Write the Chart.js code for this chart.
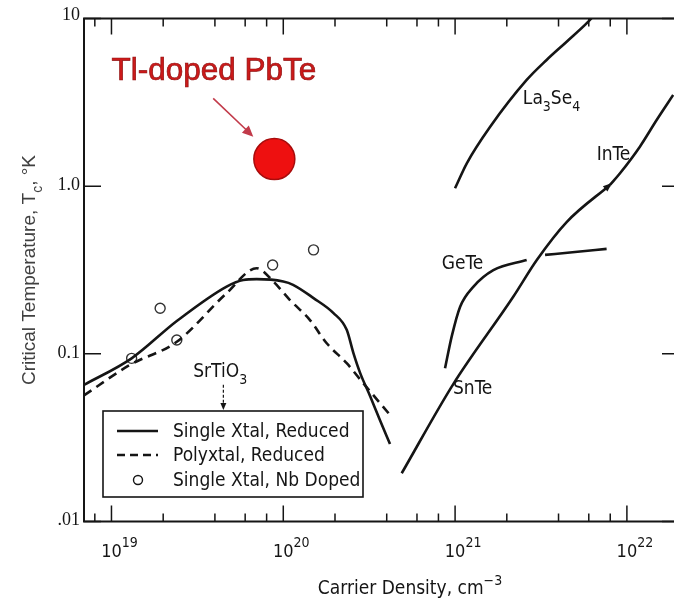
<!DOCTYPE html>
<html>
<head>
<meta charset="utf-8">
<script src="https://cdn.jsdelivr.net/npm/chart.js@4/dist/chart.umd.min.js"></script>
<style>
  html, body { margin: 0; padding: 0; background: #fff; }
  #wrap { width: 674px; height: 604px; }
</style>
</head>
<body>
<div id="wrap"><canvas id="chart" width="674" height="604"></canvas></div>
<script>
// carrier density (cm^-3) vs critical temperature (K)
const singleXtalN = [6.92e18, 1.31e19, 2.40e19, 4.68e19, 5.85e19, 7.0e19, 1.0e20, 1.14e20, 1.50e20, 1.96e20, 2.34e20, 2.56e20, 2.80e20, 3.20e20, 3.66e20, 4.18e20];
const singleXtalTc = [0.0653, 0.094, 0.157, 0.252, 0.276, 0.279, 0.27, 0.258, 0.215, 0.175, 0.139, 0.101, 0.077, 0.056, 0.040, 0.029];

const polyXtalN = [6.92e18, 1.28e19, 2.40e19, 4.68e19, 7.0e19, 8.75e19, 1.09e20, 1.43e20, 1.79e20, 2.34e20, 2.92e20, 4.18e20];
const polyXtalTc = [0.0565, 0.0859, 0.118, 0.23, 0.324, 0.27, 0.21, 0.159, 0.1156, 0.0879, 0.0668, 0.0432];

const nbDopedN = [1.31e19, 1.92e19, 2.40e19, 8.67e19, 1.50e20];
const nbDopedTc = [0.094, 0.187, 0.121, 0.339, 0.417];

const tlPbTeN = [8.87e19];
const tlPbTeTc = [1.45];

const snTeN = [4.89e20, 9.76e20, 2.18e21, 2.99e21, 4.46e21, 7.97e21];
const snTeTc = [0.0194, 0.066, 0.219, 0.363, 0.611, 1.017];

const inTeN = [7.97e21, 9.12e21, 1.19e22, 1.49e22, 1.86e22];
const inTeTc = [1.017, 1.194, 1.72, 2.48, 3.5];

// null marks the break where GeTe passes under SnTe
const geTeN = [8.74e20, 9.56e20, 1.07e21, 1.28e21, 1.67e21, 2.61e21, 3.0e21, 3.34e21, 4.99e21, 7.62e21];
const geTeTc = [0.082, 0.127, 0.191, 0.252, 0.316, 0.363, null, 0.389, 0.405, 0.4225];

const la3Se4N = [9.99e20, 1.17e21, 1.60e21, 2.61e21, 3.41e21, 4.46e21, 5.96e21, 6.3e21];
const la3Se4Tc = [0.971, 1.369, 2.26, 4.30, 5.66, 7.27, 9.57, 10.2];

// axis ticks
const xMajorTicks = [1e19, 1e20, 1e21, 1e22];
const xMajorExp = ['19', '20', '21', '22'];
const xMinorTicks = [8e18, 2e19, 4e19, 6e19, 8e19, 2e20, 4e20, 6e20, 8e20, 2e21, 4e21, 6e21, 8e21];
const yTicks = [0.01, 0.1, 1, 10];
const yTickLabels = ['.01', '0.1', '1.0', '10'];

const SANS = '"DejaVu Sans Condensed", "DejaVu Sans", sans-serif';
const SERIF = '"Liberation Serif", "DejaVu Serif", serif';
const INK = '#151515';

const pts = (xs, ys) => xs.map((v, i) => ({ x: v, y: ys[i] }));

// curve labels, anchored in data units
const curveLabels = [
    { at: [2.48e21, 3.40], parts: [['La'], ['3', 'sub'], ['Se'], ['4', 'sub']] },
    { at: [6.67e21, 1.58], parts: [['InTe']] },
    { at: [8.36e20, 0.351], parts: [['GeTe']] },
    { at: [9.72e20, 0.063], parts: [['SnTe']] },
    { at: [2.99e19, 0.0802], parts: [['SrTiO'], ['3', 'sub']] },
];

function drawRich(ctx, parts, x, y, size, family, align) {
    const big = size + 'px ' + family;
    const small = Math.round(size * 0.72) + 'px ' + family;
    let total = 0;
    parts.forEach(p => {
        ctx.font = p[1] ? small : big;
        total += ctx.measureText(p[0]).width;
    });
    let cx = align === 'center' ? x - total / 2 : x;
    ctx.textAlign = 'left';
    ctx.textBaseline = 'alphabetic';
    parts.forEach(p => {
        ctx.font = p[1] ? small : big;
        let dy = 0;
        if (p[1] === 'sub') dy = size * 0.38;
        if (p[1] === 'sup') dy = -size * 0.5;
        ctx.fillText(p[0], cx, y + dy);
        cx += ctx.measureText(p[0]).width;
    });
}

function arrowHead(ctx, x1, y1, x2, y2, len, wid) {
    const ang = Math.atan2(y2 - y1, x2 - x1);
    ctx.beginPath();
    ctx.moveTo(x2, y2);
    ctx.lineTo(x2 - len * Math.cos(ang) + wid * Math.sin(ang), y2 - len * Math.sin(ang) - wid * Math.cos(ang));
    ctx.lineTo(x2 - len * Math.cos(ang) - wid * Math.sin(ang), y2 - len * Math.sin(ang) + wid * Math.cos(ang));
    ctx.closePath();
    ctx.fill();
}

const framePlugin = {
    id: 'frame',
    afterDraw(chart) {
        const { ctx, chartArea: a, scales: { x, y } } = chart;
        ctx.save();
        ctx.strokeStyle = INK;
        ctx.fillStyle = INK;

        // axis lines (left, top, bottom)
        ctx.lineWidth = 2;
        ctx.beginPath();
        ctx.moveTo(a.right, a.top);
        ctx.lineTo(a.left, a.top);
        ctx.lineTo(a.left, a.bottom);
        ctx.lineTo(a.right, a.bottom);
        ctx.stroke();

        // x ticks, inward on bottom and top
        ctx.lineWidth = 1.5;
        const xTick = (v, len) => {
            const px = x.getPixelForValue(v);
            ctx.beginPath();
            ctx.moveTo(px, a.bottom); ctx.lineTo(px, a.bottom - len);
            ctx.moveTo(px, a.top); ctx.lineTo(px, a.top + len);
            ctx.stroke();
        };
        xMinorTicks.forEach(v => xTick(v, 8));
        xMajorTicks.forEach(v => xTick(v, 16));

        // y ticks, left and right edges
        yTicks.forEach(v => {
            const py = y.getPixelForValue(v);
            ctx.beginPath();
            ctx.moveTo(a.left, py); ctx.lineTo(a.left + 17, py);
            ctx.moveTo(a.right, py); ctx.lineTo(a.right - 12, py);
            ctx.stroke();
        });

        // y tick labels
        ctx.font = '18px ' + SERIF;
        ctx.textAlign = 'right';
        ctx.textBaseline = 'middle';
        yTicks.forEach((v, i) => {
            let py = y.getPixelForValue(v) - 1;
            if (i === yTicks.length - 1) py -= 2;
            ctx.fillText(yTickLabels[i], a.left - 4, py);
        });

        // x tick labels 10^n
        xMajorTicks.forEach((v, i) => {
            const px = x.getPixelForValue(v);
            ctx.font = '18px ' + SANS;
            const w = ctx.measureText('10').width;
            ctx.textAlign = 'left';
            ctx.textBaseline = 'alphabetic';
            ctx.fillText('10', px - w / 2, a.bottom + 35);
            ctx.font = '14px ' + SANS;
            ctx.fillText(xMajorExp[i], px + w / 2, a.bottom + 25);
        });

        // axis titles
        drawRich(ctx, [['Carrier Density, cm'], ['\u22123', 'sup']], 410, 594, 19, SANS, 'center');
        ctx.save();
        ctx.fillStyle = '#404040';
        ctx.translate(35, 270);
        ctx.rotate(-Math.PI / 2);
        drawRich(ctx, [['Critical Temperature, T'], ['c', 'sub'], [', \u00b0K']], 0, 0, 19, '"Liberation Sans", Arial, sans-serif', 'center');
        ctx.restore();

        // curve labels
        curveLabels.forEach(l => {
            drawRich(ctx, l.parts, x.getPixelForValue(l.at[0]), y.getPixelForValue(l.at[1]) + 7, 19, SANS, 'left');
        });

        // SrTiO3 pointer into the legend
        const sx = x.getPixelForValue(4.48e19);
        const sy1 = y.getPixelForValue(0.0653);
        const sy2 = y.getPixelForValue(0.0463);
        ctx.lineWidth = 1.2;
        ctx.setLineDash([3, 2]);
        ctx.beginPath();
        ctx.moveTo(sx, sy1); ctx.lineTo(sx, sy2 - 4);
        ctx.stroke();
        ctx.setLineDash([]);
        arrowHead(ctx, sx, sy1, sx, sy2, 7, 3);

        // marker on SnTe/InTe junction
        const jx = x.getPixelForValue(snTeN[snTeN.length - 1]);
        const jy = y.getPixelForValue(snTeTc[snTeTc.length - 1]);
        const px0 = x.getPixelForValue(snTeN[snTeN.length - 2]);
        const py0 = y.getPixelForValue(snTeTc[snTeTc.length - 2]);
        arrowHead(ctx, px0, py0, jx + 2, jy - 2, 9, 3.5);

        // legend
        const L = { x: 103, y: 411, w: 260, h: 86 };
        ctx.lineWidth = 1.6;
        ctx.strokeRect(L.x, L.y, L.w, L.h);
        ctx.lineWidth = 2.4;
        ctx.beginPath();
        ctx.moveTo(117, 431); ctx.lineTo(158, 431);
        ctx.stroke();
        ctx.setLineDash([8, 5]);
        ctx.beginPath();
        ctx.moveTo(117, 455); ctx.lineTo(158, 455);
        ctx.stroke();
        ctx.setLineDash([]);
        ctx.lineWidth = 1.4;
        ctx.beginPath();
        ctx.arc(138, 480, 4.5, 0, Math.PI * 2);
        ctx.stroke();
        ctx.font = '19px ' + SANS;
        ctx.textAlign = 'left';
        ctx.textBaseline = 'middle';
        ctx.fillText('Single Xtal, Reduced', 173, 432);
        ctx.fillText('Polyxtal, Reduced', 173, 456);
        ctx.fillText('Single Xtal, Nb Doped', 173, 481);

        // Tl-doped PbTe annotation
        const tx = x.getPixelForValue(1.0e19);
        const ty = y.getPixelForValue(4.83);
        ctx.font = '31.5px "Liberation Sans", Arial, sans-serif';
        ctx.textBaseline = 'middle';
        ctx.fillStyle = '#cc1a1a';
        ctx.strokeStyle = '#8e1010';
        ctx.lineWidth = 0.7;
        ctx.fillText('Tl-doped PbTe', tx, ty);
        ctx.strokeText('Tl-doped PbTe', tx, ty);

        const ax1 = x.getPixelForValue(3.91e19), ay1 = y.getPixelForValue(3.34);
        const ax2 = x.getPixelForValue(6.69e19), ay2 = y.getPixelForValue(1.97);
        ctx.strokeStyle = '#c23a4a';
        ctx.fillStyle = '#c23a4a';
        ctx.lineWidth = 1.6;
        ctx.beginPath();
        ctx.moveTo(ax1, ay1); ctx.lineTo(ax2 - 5, ay2 - 5);
        ctx.stroke();
        arrowHead(ctx, ax1, ay1, ax2, ay2, 11, 5);

        ctx.restore();
    }
};

const lineStyle = {
    showLine: true,
    borderColor: INK,
    borderWidth: 2.6,
    pointRadius: 0,
    cubicInterpolationMode: 'monotone',
    fill: false,
    spanGaps: false,
};

new Chart(document.getElementById('chart'), {
    type: 'scatter',
    data: {
        datasets: [
            { label: 'Single Xtal, Reduced', data: pts(singleXtalN, singleXtalTc), ...lineStyle },
            { label: 'Polyxtal, Reduced', data: pts(polyXtalN, polyXtalTc), ...lineStyle, borderDash: [9, 6] },
            { label: 'SnTe', data: pts(snTeN, snTeTc), ...lineStyle },
            { label: 'InTe', data: pts(inTeN, inTeTc), ...lineStyle },
            { label: 'GeTe', data: pts(geTeN, geTeTc), ...lineStyle },
            { label: 'La3Se4', data: pts(la3Se4N, la3Se4Tc), ...lineStyle },
            {
                label: 'Single Xtal, Nb Doped', data: pts(nbDopedN, nbDopedTc),
                pointRadius: 5, pointBorderWidth: 1.4, pointBorderColor: '#333', pointBackgroundColor: '#fff',
            },
            {
                label: 'Tl-doped PbTe', data: pts(tlPbTeN, tlPbTeTc),
                pointRadius: 20.5, pointBorderWidth: 1.5, pointBorderColor: '#a80c0c', pointBackgroundColor: '#ee1010',
            },
        ],
    },
    options: {
        responsive: false,
        animation: false,
        layout: { autoPadding: false, padding: { left: 84, top: 18.5, right: 0, bottom: 82.5 } },
        scales: {
            x: { type: 'logarithmic', min: 6.92e18, max: 1.88e22, display: false },
            y: { type: 'logarithmic', min: 0.01, max: 10, display: false },
        },
        plugins: { legend: { display: false }, tooltip: { enabled: false } },
    },
    plugins: [framePlugin],
});
</script>
</body>
</html>
